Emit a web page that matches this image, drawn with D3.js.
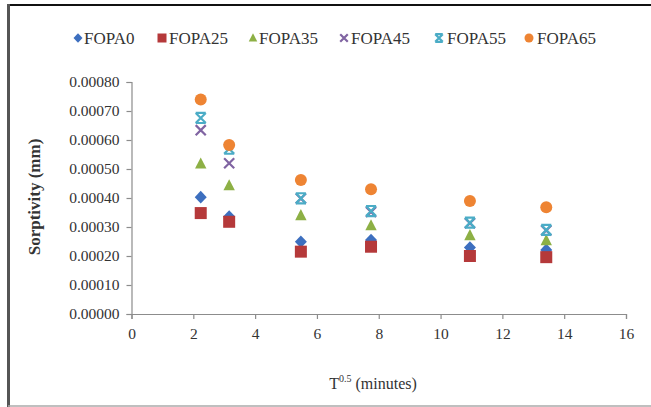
<!DOCTYPE html>
<html><head><meta charset="utf-8">
<script src="https://cdn.jsdelivr.net/npm/d3@7"></script>
<style>body{margin:0;background:#fff}svg{display:block}</style>
</head><body>
<svg id="c" width="651" height="407"></svg>
<script>
const times = [2.24, 3.16, 5.48, 7.75, 10.95, 13.42];
const seriesNames = ["FOPA0", "FOPA25", "FOPA35", "FOPA45", "FOPA55", "FOPA65"];
const FOPA0  = [0.000403, 0.000336, 0.000249, 0.000255, 0.000229, 0.000221];
const FOPA25 = [0.000348, 0.000318, 0.000215, 0.000232, 0.000200, 0.000196];
const FOPA35 = [0.000518, 0.000443, 0.000340, 0.000305, 0.000271, 0.000254];
const FOPA45 = [0.000634, 0.000520, 0.000398, 0.000352, 0.000313, 0.000288];
const FOPA55 = [0.000676, 0.000570, 0.000399, 0.000355, 0.000315, 0.000290];
const FOPA65 = [0.000740, 0.000583, 0.000462, 0.000430, 0.000390, 0.000368];
const xTicks = [0, 2, 4, 6, 8, 10, 12, 14, 16];
const yTicks = [0, 0.0001, 0.0002, 0.0003, 0.0004, 0.0005, 0.0006, 0.0007, 0.0008];
const colors = ["#3D6FBF", "#B5393A", "#8DB045", "#8064A2", "#4BACC6", "#EE8433"];
const shapes = ["diamond", "square", "triangle", "x", "star", "circle"];
const values = [FOPA0, FOPA25, FOPA35, FOPA45, FOPA55, FOPA65];

const svg = d3.select("#c");
const font = "Liberation Serif, Times New Roman, serif";

// frame
svg.append("line").attr("x1",7).attr("x2",651).attr("y1",5).attr("y2",5).attr("stroke","#111").attr("stroke-width",2);
svg.append("line").attr("x1",8.5).attr("x2",8.5).attr("y1",4).attr("y2",407).attr("stroke","#555").attr("stroke-width",3);
svg.append("line").attr("x1",8).attr("x2",651).attr("y1",406).attr("y2",406).attr("stroke","#aaa").attr("stroke-width",1.5);

const x = d3.scaleLinear().domain([0,16]).range([131.5,626]);
const y = d3.scaleLinear().domain([0,0.0008]).range([314,82]);

const gx = svg.append("g").attr("transform","translate(0,314)")
  .call(d3.axisBottom(x).tickValues(xTicks).tickSize(5).tickPadding(9).tickFormat(d3.format("d")));
const gy = svg.append("g").attr("transform","translate(131.5,0)")
  .call(d3.axisLeft(y).tickValues(yTicks).tickSize(5).tickPadding(7).tickFormat(d3.format(".5f")));
[gx,gy].forEach(g=>{
  g.selectAll("path,line").attr("stroke","#8c8c8c").attr("stroke-width",1.2);
  g.selectAll("text").style("font-family",font).attr("font-size",15.5).attr("fill","#333");
});

svg.append("text").attr("transform","translate(40,197) rotate(-90)").attr("text-anchor","middle")
  .style("font-family",font).attr("font-size",17).attr("font-weight","bold").attr("fill","#333").text("Sorptivity (mm)");
const xt = svg.append("text").attr("x",373).attr("y",389).attr("text-anchor","middle")
  .style("font-family",font).attr("font-size",16).attr("fill","#333");
xt.append("tspan").text("T");
xt.append("tspan").attr("font-size",10).attr("dy",-7).text("0.5");
xt.append("tspan").attr("dy",7).text(" (minutes)");

function marker(g, shape, color, s){
  const h = s/2;
  if(shape==="diamond") g.append("path").attr("d",`M0,${-h*1.05}L${h},0L0,${h*1.05}L${-h},0Z`).attr("fill",color);
  else if(shape==="square") g.append("rect").attr("x",-h).attr("y",-h).attr("width",s).attr("height",s).attr("fill",color);
  else if(shape==="triangle") g.append("path").attr("d",`M0,${-h*1.05}L${h*0.95},${h*0.8}L${-h*0.95},${h*0.8}Z`).attr("fill",color);
  else if(shape==="circle") g.append("circle").attr("r",h).attr("fill",color);
  else if(shape==="x"){
    const k=s*0.42;
    g.append("path").attr("d",`M${-k},${-k}L${k},${k}M${-k},${k}L${k},${-k}`).attr("stroke",color).attr("stroke-width",2.2).attr("fill","none");
  } else if(shape==="star"){
    const k=s*0.42;
    g.append("path").attr("d",`M${-k},${-k}L${k},${k}M${-k},${k}L${k},${-k}M${-k},${-k}L${k},${-k}M${-k},${k}L${k},${k}`).attr("stroke",color).attr("stroke-width",2.2).attr("fill","none");
  }
}

values.forEach((vals,i)=>{
  const g = svg.append("g");
  vals.forEach((v,j)=>{
    const m = g.append("g").attr("transform",`translate(${x(times[j])},${y(v)})`);
    marker(m, shapes[i], colors[i], 12);
  });
});

// legend
const legX = [78, 162, 253, 344, 439, 529];
const legT = [84, 169, 259, 351, 447, 537];
const leg = svg.append("g");
seriesNames.forEach((n,i)=>{
  const m = leg.append("g").attr("transform",`translate(${legX[i]},38)`);
  marker(m, shapes[i], colors[i], 9);
  leg.append("text").attr("x",legT[i]).attr("y",44).style("font-family",font).attr("font-size",17)
    .attr("fill","#333").text(n);
});
</script>
</body></html>
